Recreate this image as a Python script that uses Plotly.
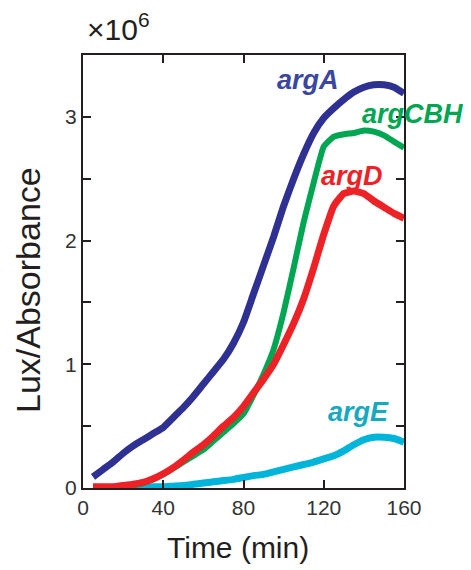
import plotly.graph_objects as go

time_min = [5, 10, 15, 20, 25, 30, 35, 40, 45, 50, 55, 60, 65, 70, 75, 80,
            85, 90, 95, 100, 105, 110, 115, 120, 125, 130, 135, 140, 145, 150, 155, 160]

argA = [0.09, 0.15, 0.21, 0.28, 0.34, 0.39, 0.44, 0.49, 0.57, 0.65, 0.74, 0.84, 0.94, 1.04, 1.17, 1.34,
        1.57, 1.80, 2.03, 2.28, 2.50, 2.70, 2.87, 2.99, 3.07, 3.14, 3.20, 3.24, 3.26, 3.26, 3.24, 3.19]
argCBH = [0.0, 0.0, 0.0, 0.005, 0.02, 0.04, 0.07, 0.11, 0.16, 0.21, 0.26, 0.31, 0.38, 0.45, 0.52, 0.60,
          0.75, 0.92, 1.12, 1.42, 1.78, 2.15, 2.47, 2.76, 2.84, 2.86, 2.87, 2.89, 2.88, 2.85, 2.80, 2.75]
argD = [0.01, 0.01, 0.01, 0.02, 0.03, 0.045, 0.075, 0.115, 0.165, 0.225, 0.29, 0.35, 0.42, 0.50, 0.57, 0.66,
        0.77, 0.88, 1.00, 1.16, 1.33, 1.53, 1.78, 2.05, 2.28, 2.38, 2.40, 2.38, 2.32, 2.27, 2.22, 2.18]
argE = [0.0, 0.0, 0.0, 0.0, 0.0, 0.005, 0.01, 0.01, 0.015, 0.02, 0.03, 0.04, 0.05, 0.06, 0.07, 0.085,
        0.10, 0.11, 0.13, 0.15, 0.17, 0.19, 0.21, 0.235, 0.26, 0.30, 0.35, 0.39, 0.41, 0.41, 0.40, 0.37]

x_ticks = [0, 40, 80, 120, 160]
y_ticks = [0, 1, 2, 3]
y_minor_ticks = [0.5, 1.5, 2.5]

FONT = "Liberation Sans, Arial, Helvetica, sans-serif"
INK = "#231f20"

series = [
    ("argE", argE, "#00b5d9", 7),
    ("argCBH", argCBH, "#00a651", 6),
    ("argD", argD, "#ed2227", 7),
    ("argA", argA, "#2e3192", 7),
]

fig = go.Figure()
for name, vals, color, w in series:
    fig.add_trace(go.Scatter(x=time_min, y=vals, mode="lines", name=name,
                             line=dict(color=color, width=w, shape="spline", smoothing=0.4)))

# plot area in page pixels: left 83, right 404, top 55, bottom 488
def dx(px):
    return (px - 83) / 321


def dy(py):
    return (488 - py) / 433


labels = [
    ("argA", 308, 80, "#3a46a0"),
    ("argCBH", 413, 114, "#00a651"),
    ("argD", 352, 176, "#ed2227"),
    ("argE", 358, 412, "#16a9c0"),
]
for text, xpx, ypx, color in labels:
    fig.add_annotation(x=dx(xpx), y=dy(ypx), xref="x domain", yref="y domain",
                       xanchor="center", yanchor="middle", borderpad=0,
                       text=f"<b><i>{text}</i></b>", showarrow=False,
                       font=dict(family=FONT, size=27, color=color))

fig.add_annotation(x=0.0, y=1.0, xref="x domain", yref="y domain", text="×10<sup>6</sup>",
                   showarrow=False, xanchor="left", yanchor="bottom", xshift=2, yshift=7,
                   font=dict(family=FONT, size=30, color=INK))

# axis titles
fig.add_annotation(x=dx(238), y=dy(547), xref="x domain", yref="y domain", xanchor="center", yanchor="middle",
                   text="Time (min)", showarrow=False, font=dict(family=FONT, size=30, color=INK))
fig.add_annotation(x=dx(28), y=dy(290), xref="x domain", yref="y domain", xanchor="center", yanchor="middle",
                   text="Lux/Absorbance", textangle=-90, showarrow=False, borderpad=0,
                   font=dict(family=FONT, size=34, color=INK))

axis_common = dict(showline=True, linecolor=INK, linewidth=2, mirror="ticks", ticks="inside",
                   ticklen=8, tickwidth=1.5, tickcolor=INK, showgrid=False, zeroline=False,
                   tickfont=dict(family=FONT, size=21, color="#333333"))

fig.update_xaxes(range=[0, 160], tickvals=x_ticks, **axis_common)
fig.update_yaxes(range=[0, 3.5], tickvals=y_ticks,
                 minor=dict(tickvals=y_minor_ticks, ticks="inside", ticklen=8, tickwidth=1.5,
                            tickcolor=INK, showgrid=False),
                 **axis_common)

# page body has an 8px margin, so the figure origin is at (8, 8)
fig.update_layout(width=463, height=562, showlegend=False,
                  margin=dict(l=75, r=67, t=47, b=82),
                  plot_bgcolor="white", paper_bgcolor="white")

fig.write_html("out.html")
